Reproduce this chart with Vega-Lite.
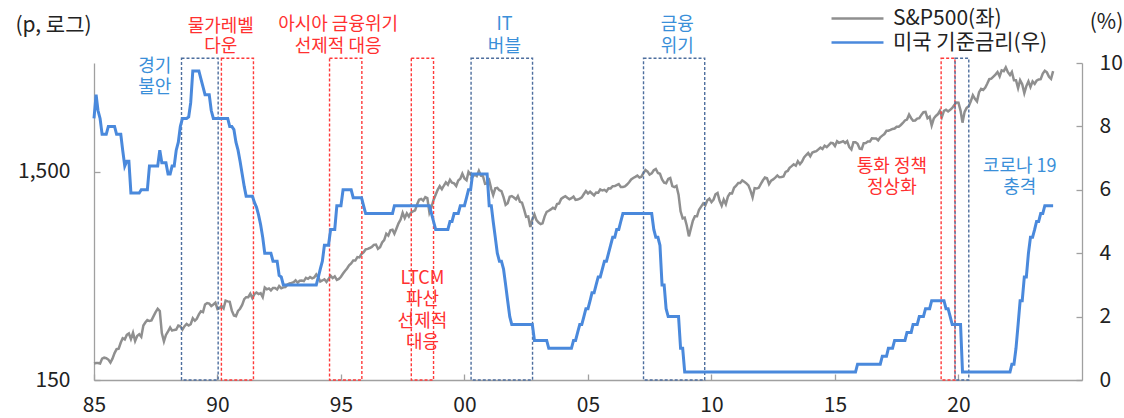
{
"$schema":"https://vega.github.io/schema/vega-lite/v6.json",
"width":988,"height":317,
"autosize":{"type":"none"},
"padding":{"left":94,"top":63,"right":42,"bottom":38},
"config":{"view":{"stroke":null},"font":"Noto Sans CJK KR",
"axis":{"domainColor":"#a0a0a0","domainWidth":1.3,"tickColor":"#a0a0a0","tickWidth":1.3,"tickSize":-6,"labelFont":"Noto Sans CJK KR","labelFontSize":21,"labelColor":"#222222","grid":false,"titleFont":"Noto Sans CJK KR","titleFontSize":21,"titleFontWeight":"normal","titleColor":"#222222"}},
"datasets":{
"sp":[
{"d":"1985-01","v":180},{"d":"1985-02","v":181},{"d":"1985-03","v":181},{"d":"1985-04","v":180},{"d":"1985-05","v":190},{"d":"1985-06","v":192},{"d":"1985-07","v":191},{"d":"1985-08","v":188},{"d":"1985-09","v":182},{"d":"1985-10","v":190},{"d":"1985-11","v":202},{"d":"1985-12","v":211},
{"d":"1986-01","v":212},{"d":"1986-02","v":227},{"d":"1986-03","v":238},{"d":"1986-04","v":235},{"d":"1986-05","v":247},{"d":"1986-06","v":251},{"d":"1986-07","v":236},{"d":"1986-08","v":253},{"d":"1986-09","v":231},{"d":"1986-10","v":244},{"d":"1986-11","v":249},{"d":"1986-12","v":242},
{"d":"1987-01","v":274},{"d":"1987-02","v":284},{"d":"1987-03","v":291},{"d":"1987-04","v":288},{"d":"1987-05","v":290},{"d":"1987-06","v":304},{"d":"1987-07","v":318},{"d":"1987-08","v":330},{"d":"1987-09","v":322},{"d":"1987-10","v":252},{"d":"1987-11","v":230},{"d":"1987-12","v":247},
{"d":"1988-01","v":257},{"d":"1988-02","v":268},{"d":"1988-03","v":259},{"d":"1988-04","v":261},{"d":"1988-05","v":262},{"d":"1988-06","v":274},{"d":"1988-07","v":272},{"d":"1988-08","v":262},{"d":"1988-09","v":272},{"d":"1988-10","v":279},{"d":"1988-11","v":274},{"d":"1988-12","v":278},
{"d":"1989-01","v":297},{"d":"1989-02","v":289},{"d":"1989-03","v":295},{"d":"1989-04","v":310},{"d":"1989-05","v":321},{"d":"1989-06","v":318},{"d":"1989-07","v":346},{"d":"1989-08","v":351},{"d":"1989-09","v":349},{"d":"1989-10","v":340},{"d":"1989-11","v":346},{"d":"1989-12","v":353},
{"d":"1990-01","v":329},{"d":"1990-02","v":332},{"d":"1990-03","v":340},{"d":"1990-04","v":331},{"d":"1990-05","v":361},{"d":"1990-06","v":358},{"d":"1990-07","v":356},{"d":"1990-08","v":323},{"d":"1990-09","v":306},{"d":"1990-10","v":304},{"d":"1990-11","v":322},{"d":"1990-12","v":330},
{"d":"1991-01","v":344},{"d":"1991-02","v":367},{"d":"1991-03","v":375},{"d":"1991-04","v":375},{"d":"1991-05","v":390},{"d":"1991-06","v":371},{"d":"1991-07","v":388},{"d":"1991-08","v":395},{"d":"1991-09","v":388},{"d":"1991-10","v":392},{"d":"1991-11","v":375},{"d":"1991-12","v":417},
{"d":"1992-01","v":409},{"d":"1992-02","v":413},{"d":"1992-03","v":404},{"d":"1992-04","v":415},{"d":"1992-05","v":415},{"d":"1992-06","v":408},{"d":"1992-07","v":424},{"d":"1992-08","v":414},{"d":"1992-09","v":418},{"d":"1992-10","v":419},{"d":"1992-11","v":431},{"d":"1992-12","v":436},
{"d":"1993-01","v":439},{"d":"1993-02","v":443},{"d":"1993-03","v":452},{"d":"1993-04","v":440},{"d":"1993-05","v":450},{"d":"1993-06","v":451},{"d":"1993-07","v":448},{"d":"1993-08","v":464},{"d":"1993-09","v":459},{"d":"1993-10","v":468},{"d":"1993-11","v":462},{"d":"1993-12","v":466},
{"d":"1994-01","v":482},{"d":"1994-02","v":467},{"d":"1994-03","v":446},{"d":"1994-04","v":451},{"d":"1994-05","v":457},{"d":"1994-06","v":444},{"d":"1994-07","v":458},{"d":"1994-08","v":475},{"d":"1994-09","v":463},{"d":"1994-10","v":472},{"d":"1994-11","v":454},{"d":"1994-12","v":459},
{"d":"1995-01","v":470},{"d":"1995-02","v":487},{"d":"1995-03","v":501},{"d":"1995-04","v":515},{"d":"1995-05","v":533},{"d":"1995-06","v":545},{"d":"1995-07","v":562},{"d":"1995-08","v":562},{"d":"1995-09","v":584},{"d":"1995-10","v":582},{"d":"1995-11","v":605},{"d":"1995-12","v":616},
{"d":"1996-01","v":636},{"d":"1996-02","v":640},{"d":"1996-03","v":646},{"d":"1996-04","v":654},{"d":"1996-05","v":669},{"d":"1996-06","v":671},{"d":"1996-07","v":640},{"d":"1996-08","v":652},{"d":"1996-09","v":687},{"d":"1996-10","v":705},{"d":"1996-11","v":757},{"d":"1996-12","v":741},
{"d":"1997-01","v":786},{"d":"1997-02","v":791},{"d":"1997-03","v":757},{"d":"1997-04","v":801},{"d":"1997-05","v":848},{"d":"1997-06","v":885},{"d":"1997-07","v":954},{"d":"1997-08","v":899},{"d":"1997-09","v":947},{"d":"1997-10","v":915},{"d":"1997-11","v":955},{"d":"1997-12","v":970},
{"d":"1998-01","v":980},{"d":"1998-02","v":1049},{"d":"1998-03","v":1102},{"d":"1998-04","v":1112},{"d":"1998-05","v":1091},{"d":"1998-06","v":1134},{"d":"1998-07","v":1121},{"d":"1998-08","v":957},{"d":"1998-09","v":1017},{"d":"1998-10","v":1099},{"d":"1998-11","v":1164},{"d":"1998-12","v":1229},
{"d":"1999-01","v":1280},{"d":"1999-02","v":1238},{"d":"1999-03","v":1286},{"d":"1999-04","v":1335},{"d":"1999-05","v":1302},{"d":"1999-06","v":1373},{"d":"1999-07","v":1329},{"d":"1999-08","v":1320},{"d":"1999-09","v":1283},{"d":"1999-10","v":1363},{"d":"1999-11","v":1389},{"d":"1999-12","v":1469},
{"d":"2000-01","v":1394},{"d":"2000-02","v":1366},{"d":"2000-03","v":1499},{"d":"2000-04","v":1452},{"d":"2000-05","v":1421},{"d":"2000-06","v":1455},{"d":"2000-07","v":1431},{"d":"2000-08","v":1518},{"d":"2000-09","v":1437},{"d":"2000-10","v":1429},{"d":"2000-11","v":1315},{"d":"2000-12","v":1320},
{"d":"2001-01","v":1366},{"d":"2001-02","v":1240},{"d":"2001-03","v":1160},{"d":"2001-04","v":1249},{"d":"2001-05","v":1256},{"d":"2001-06","v":1224},{"d":"2001-07","v":1211},{"d":"2001-08","v":1134},{"d":"2001-09","v":1041},{"d":"2001-10","v":1060},{"d":"2001-11","v":1139},{"d":"2001-12","v":1148},
{"d":"2002-01","v":1130},{"d":"2002-02","v":1107},{"d":"2002-03","v":1147},{"d":"2002-04","v":1077},{"d":"2002-05","v":1067},{"d":"2002-06","v":990},{"d":"2002-07","v":912},{"d":"2002-08","v":916},{"d":"2002-09","v":815},{"d":"2002-10","v":886},{"d":"2002-11","v":936},{"d":"2002-12","v":880},
{"d":"2003-01","v":856},{"d":"2003-02","v":841},{"d":"2003-03","v":848},{"d":"2003-04","v":917},{"d":"2003-05","v":964},{"d":"2003-06","v":975},{"d":"2003-07","v":990},{"d":"2003-08","v":1008},{"d":"2003-09","v":996},{"d":"2003-10","v":1051},{"d":"2003-11","v":1058},{"d":"2003-12","v":1112},
{"d":"2004-01","v":1131},{"d":"2004-02","v":1145},{"d":"2004-03","v":1126},{"d":"2004-04","v":1107},{"d":"2004-05","v":1121},{"d":"2004-06","v":1141},{"d":"2004-07","v":1101},{"d":"2004-08","v":1104},{"d":"2004-09","v":1115},{"d":"2004-10","v":1130},{"d":"2004-11","v":1174},{"d":"2004-12","v":1212},
{"d":"2005-01","v":1181},{"d":"2005-02","v":1204},{"d":"2005-03","v":1181},{"d":"2005-04","v":1157},{"d":"2005-05","v":1192},{"d":"2005-06","v":1191},{"d":"2005-07","v":1234},{"d":"2005-08","v":1220},{"d":"2005-09","v":1229},{"d":"2005-10","v":1207},{"d":"2005-11","v":1249},{"d":"2005-12","v":1248},
{"d":"2006-01","v":1280},{"d":"2006-02","v":1281},{"d":"2006-03","v":1295},{"d":"2006-04","v":1311},{"d":"2006-05","v":1270},{"d":"2006-06","v":1270},{"d":"2006-07","v":1277},{"d":"2006-08","v":1304},{"d":"2006-09","v":1336},{"d":"2006-10","v":1378},{"d":"2006-11","v":1401},{"d":"2006-12","v":1418},
{"d":"2007-01","v":1438},{"d":"2007-02","v":1407},{"d":"2007-03","v":1421},{"d":"2007-04","v":1482},{"d":"2007-05","v":1531},{"d":"2007-06","v":1503},{"d":"2007-07","v":1455},{"d":"2007-08","v":1474},{"d":"2007-09","v":1527},{"d":"2007-10","v":1549},{"d":"2007-11","v":1481},{"d":"2007-12","v":1468},
{"d":"2008-01","v":1379},{"d":"2008-02","v":1331},{"d":"2008-03","v":1323},{"d":"2008-04","v":1386},{"d":"2008-05","v":1400},{"d":"2008-06","v":1280},{"d":"2008-07","v":1267},{"d":"2008-08","v":1283},{"d":"2008-09","v":1165},{"d":"2008-10","v":969},{"d":"2008-11","v":896},{"d":"2008-12","v":903},
{"d":"2009-01","v":826},{"d":"2009-02","v":735},{"d":"2009-03","v":798},{"d":"2009-04","v":873},{"d":"2009-05","v":919},{"d":"2009-06","v":919},{"d":"2009-07","v":987},{"d":"2009-08","v":1021},{"d":"2009-09","v":1057},{"d":"2009-10","v":1036},{"d":"2009-11","v":1096},{"d":"2009-12","v":1115},
{"d":"2010-01","v":1074},{"d":"2010-02","v":1104},{"d":"2010-03","v":1169},{"d":"2010-04","v":1187},{"d":"2010-05","v":1089},{"d":"2010-06","v":1031},{"d":"2010-07","v":1102},{"d":"2010-08","v":1049},{"d":"2010-09","v":1141},{"d":"2010-10","v":1183},{"d":"2010-11","v":1181},{"d":"2010-12","v":1258},
{"d":"2011-01","v":1286},{"d":"2011-02","v":1327},{"d":"2011-03","v":1326},{"d":"2011-04","v":1364},{"d":"2011-05","v":1345},{"d":"2011-06","v":1321},{"d":"2011-07","v":1292},{"d":"2011-08","v":1219},{"d":"2011-09","v":1131},{"d":"2011-10","v":1253},{"d":"2011-11","v":1247},{"d":"2011-12","v":1258},
{"d":"2012-01","v":1312},{"d":"2012-02","v":1366},{"d":"2012-03","v":1408},{"d":"2012-04","v":1398},{"d":"2012-05","v":1310},{"d":"2012-06","v":1362},{"d":"2012-07","v":1379},{"d":"2012-08","v":1407},{"d":"2012-09","v":1441},{"d":"2012-10","v":1412},{"d":"2012-11","v":1416},{"d":"2012-12","v":1426},
{"d":"2013-01","v":1498},{"d":"2013-02","v":1515},{"d":"2013-03","v":1569},{"d":"2013-04","v":1598},{"d":"2013-05","v":1631},{"d":"2013-06","v":1606},{"d":"2013-07","v":1686},{"d":"2013-08","v":1633},{"d":"2013-09","v":1682},{"d":"2013-10","v":1757},{"d":"2013-11","v":1806},{"d":"2013-12","v":1848},
{"d":"2014-01","v":1783},{"d":"2014-02","v":1859},{"d":"2014-03","v":1872},{"d":"2014-04","v":1884},{"d":"2014-05","v":1924},{"d":"2014-06","v":1960},{"d":"2014-07","v":1931},{"d":"2014-08","v":2003},{"d":"2014-09","v":1972},{"d":"2014-10","v":2018},{"d":"2014-11","v":2068},{"d":"2014-12","v":2059},
{"d":"2015-01","v":1995},{"d":"2015-02","v":2105},{"d":"2015-03","v":2068},{"d":"2015-04","v":2086},{"d":"2015-05","v":2107},{"d":"2015-06","v":2063},{"d":"2015-07","v":2104},{"d":"2015-08","v":1972},{"d":"2015-09","v":1920},{"d":"2015-10","v":2079},{"d":"2015-11","v":2080},{"d":"2015-12","v":2044},
{"d":"2016-01","v":1940},{"d":"2016-02","v":1932},{"d":"2016-03","v":2060},{"d":"2016-04","v":2065},{"d":"2016-05","v":2097},{"d":"2016-06","v":2099},{"d":"2016-07","v":2174},{"d":"2016-08","v":2171},{"d":"2016-09","v":2168},{"d":"2016-10","v":2126},{"d":"2016-11","v":2199},{"d":"2016-12","v":2239},
{"d":"2017-01","v":2279},{"d":"2017-02","v":2364},{"d":"2017-03","v":2363},{"d":"2017-04","v":2384},{"d":"2017-05","v":2412},{"d":"2017-06","v":2423},{"d":"2017-07","v":2470},{"d":"2017-08","v":2472},{"d":"2017-09","v":2519},{"d":"2017-10","v":2575},{"d":"2017-11","v":2648},{"d":"2017-12","v":2674},
{"d":"2018-01","v":2824},{"d":"2018-02","v":2714},{"d":"2018-03","v":2641},{"d":"2018-04","v":2648},{"d":"2018-05","v":2705},{"d":"2018-06","v":2718},{"d":"2018-07","v":2816},{"d":"2018-08","v":2902},{"d":"2018-09","v":2914},{"d":"2018-10","v":2712},{"d":"2018-11","v":2760},{"d":"2018-12","v":2507},
{"d":"2019-01","v":2704},{"d":"2019-02","v":2784},{"d":"2019-03","v":2834},{"d":"2019-04","v":2946},{"d":"2019-05","v":2752},{"d":"2019-06","v":2942},{"d":"2019-07","v":2980},{"d":"2019-08","v":2926},{"d":"2019-09","v":2977},{"d":"2019-10","v":3038},{"d":"2019-11","v":3141},{"d":"2019-12","v":3231},
{"d":"2020-01","v":3226},{"d":"2020-02","v":2954},{"d":"2020-03","v":2585},{"d":"2020-04","v":2912},{"d":"2020-05","v":3044},{"d":"2020-06","v":3100},{"d":"2020-07","v":3271},{"d":"2020-08","v":3500},{"d":"2020-09","v":3363},{"d":"2020-10","v":3270},{"d":"2020-11","v":3622},{"d":"2020-12","v":3756},
{"d":"2021-01","v":3714},{"d":"2021-02","v":3811},{"d":"2021-03","v":3973},{"d":"2021-04","v":4181},{"d":"2021-05","v":4204},{"d":"2021-06","v":4298},{"d":"2021-07","v":4395},{"d":"2021-08","v":4523},{"d":"2021-09","v":4308},{"d":"2021-10","v":4605},{"d":"2021-11","v":4567},{"d":"2021-12","v":4766},
{"d":"2022-01","v":4516},{"d":"2022-02","v":4374},{"d":"2022-03","v":4530},{"d":"2022-04","v":4132},{"d":"2022-05","v":4132},{"d":"2022-06","v":3785},{"d":"2022-07","v":4130},{"d":"2022-08","v":3955},{"d":"2022-09","v":3586},{"d":"2022-10","v":3872},{"d":"2022-11","v":4080},{"d":"2022-12","v":3840},
{"d":"2023-01","v":4077},{"d":"2023-02","v":3970},{"d":"2023-03","v":4109},{"d":"2023-04","v":4169},{"d":"2023-05","v":4180},{"d":"2023-06","v":4450},{"d":"2023-07","v":4589},{"d":"2023-08","v":4508},{"d":"2023-09","v":4288},{"d":"2023-10","v":4194},{"d":"2023-11","v":4568}
],
"ff":[
{"d":"1985-01","r":8.25},{"d":"1985-02","r":9.0},{"d":"1985-03","r":8.5},{"d":"1985-04","r":8.25},{"d":"1985-05","r":7.75},{"d":"1985-07","r":7.75},{"d":"1985-08","r":8.0},{"d":"1985-11","r":8.0},{"d":"1985-12","r":7.75},
{"d":"1986-02","r":7.75},{"d":"1986-03","r":7.25},{"d":"1986-04","r":6.75},{"d":"1986-05","r":6.9},{"d":"1986-06","r":6.9},{"d":"1986-07","r":5.9},{"d":"1986-11","r":5.9},{"d":"1986-12","r":6.0},
{"d":"1987-03","r":6.0},{"d":"1987-04","r":6.75},{"d":"1987-08","r":6.75},{"d":"1987-09","r":7.25},{"d":"1987-10","r":6.85},{"d":"1987-12","r":6.85},
{"d":"1988-01","r":6.5},{"d":"1988-02","r":6.5},{"d":"1988-03","r":6.75},{"d":"1988-04","r":6.75},{"d":"1988-05","r":7.25},{"d":"1988-06","r":7.5},{"d":"1988-07","r":8.0},{"d":"1988-08","r":8.25},{"d":"1988-10","r":8.25},{"d":"1988-11","r":8.3},{"d":"1988-12","r":8.75},
{"d":"1989-01","r":9.75},{"d":"1989-04","r":9.75},{"d":"1989-05","r":9.5},{"d":"1989-06","r":9.25},{"d":"1989-07","r":9.0},{"d":"1989-09","r":9.0},{"d":"1989-10","r":8.5},{"d":"1989-11","r":8.25},
{"d":"1990-06","r":8.25},{"d":"1990-07","r":8.0},{"d":"1990-08","r":8.0},{"d":"1990-09","r":7.9},{"d":"1990-10","r":7.5},{"d":"1990-11","r":7.25},{"d":"1990-12","r":6.9},
{"d":"1991-01","r":6.5},{"d":"1991-02","r":6.1},{"d":"1991-03","r":5.8},{"d":"1991-06","r":5.8},{"d":"1991-07","r":5.6},{"d":"1991-08","r":5.45},{"d":"1991-09","r":5.2},{"d":"1991-10","r":4.9},{"d":"1991-11","r":4.5},{"d":"1991-12","r":4.0},
{"d":"1992-03","r":4.0},{"d":"1992-04","r":3.75},{"d":"1992-06","r":3.75},{"d":"1992-07","r":3.3},{"d":"1992-08","r":3.25},{"d":"1992-09","r":3.0},
{"d":"1994-01","r":3.0},{"d":"1994-02","r":3.25},{"d":"1994-03","r":3.5},{"d":"1994-04","r":3.75},{"d":"1994-05","r":4.25},{"d":"1994-07","r":4.25},{"d":"1994-08","r":4.75},{"d":"1994-10","r":4.75},{"d":"1994-11","r":5.5},
{"d":"1995-01","r":5.5},{"d":"1995-02","r":6.0},{"d":"1995-06","r":6.0},{"d":"1995-07","r":5.75},{"d":"1995-11","r":5.75},{"d":"1995-12","r":5.5},
{"d":"1996-01","r":5.25},{"d":"1997-02","r":5.25},{"d":"1997-03","r":5.5},{"d":"1998-08","r":5.5},{"d":"1998-09","r":5.25},{"d":"1998-10","r":5.0},{"d":"1998-11","r":4.75},
{"d":"1999-05","r":4.75},{"d":"1999-06","r":5.0},{"d":"1999-07","r":5.0},{"d":"1999-08","r":5.25},{"d":"1999-10","r":5.25},{"d":"1999-11","r":5.5},
{"d":"2000-01","r":5.5},{"d":"2000-02","r":5.75},{"d":"2000-03","r":6.0},{"d":"2000-04","r":6.0},{"d":"2000-05","r":6.5},{"d":"2000-12","r":6.5},
{"d":"2001-01","r":5.5},{"d":"2001-02","r":5.5},{"d":"2001-03","r":5.0},{"d":"2001-04","r":4.5},{"d":"2001-05","r":4.0},{"d":"2001-06","r":3.75},{"d":"2001-07","r":3.75},{"d":"2001-08","r":3.5},{"d":"2001-09","r":3.0},{"d":"2001-10","r":2.5},{"d":"2001-11","r":2.0},{"d":"2001-12","r":1.75},
{"d":"2002-10","r":1.75},{"d":"2002-11","r":1.25},{"d":"2003-05","r":1.25},{"d":"2003-06","r":1.0},
{"d":"2004-05","r":1.0},{"d":"2004-06","r":1.25},{"d":"2004-07","r":1.25},{"d":"2004-08","r":1.5},{"d":"2004-09","r":1.75},{"d":"2004-10","r":1.75},{"d":"2004-11","r":2.0},{"d":"2004-12","r":2.25},
{"d":"2005-01","r":2.25},{"d":"2005-02","r":2.5},{"d":"2005-03","r":2.75},{"d":"2005-04","r":2.75},{"d":"2005-05","r":3.0},{"d":"2005-06","r":3.25},{"d":"2005-07","r":3.25},{"d":"2005-08","r":3.5},{"d":"2005-09","r":3.75},{"d":"2005-10","r":3.75},{"d":"2005-11","r":4.0},{"d":"2005-12","r":4.25},
{"d":"2006-01","r":4.5},{"d":"2006-02","r":4.5},{"d":"2006-03","r":4.75},{"d":"2006-04","r":4.75},{"d":"2006-05","r":5.0},{"d":"2006-06","r":5.25},
{"d":"2007-08","r":5.25},{"d":"2007-09","r":4.75},{"d":"2007-10","r":4.5},{"d":"2007-11","r":4.5},{"d":"2007-12","r":4.25},
{"d":"2008-01","r":3.0},{"d":"2008-02","r":3.0},{"d":"2008-03","r":2.25},{"d":"2008-04","r":2.0},{"d":"2008-09","r":2.0},{"d":"2008-10","r":1.0},{"d":"2008-11","r":1.0},{"d":"2008-12","r":0.25},
{"d":"2015-11","r":0.25},{"d":"2015-12","r":0.5},{"d":"2016-11","r":0.5},{"d":"2016-12","r":0.75},
{"d":"2017-02","r":0.75},{"d":"2017-03","r":1.0},{"d":"2017-05","r":1.0},{"d":"2017-06","r":1.25},{"d":"2017-11","r":1.25},{"d":"2017-12","r":1.5},
{"d":"2018-02","r":1.5},{"d":"2018-03","r":1.75},{"d":"2018-05","r":1.75},{"d":"2018-06","r":2.0},{"d":"2018-08","r":2.0},{"d":"2018-09","r":2.25},{"d":"2018-11","r":2.25},{"d":"2018-12","r":2.5},
{"d":"2019-06","r":2.5},{"d":"2019-07","r":2.25},{"d":"2019-08","r":2.25},{"d":"2019-09","r":2.0},{"d":"2019-10","r":1.75},
{"d":"2020-02","r":1.75},{"d":"2020-03","r":0.25},
{"d":"2022-02","r":0.25},{"d":"2022-03","r":0.5},{"d":"2022-04","r":0.5},{"d":"2022-05","r":1.0},{"d":"2022-06","r":1.75},{"d":"2022-07","r":2.5},{"d":"2022-08","r":2.5},{"d":"2022-09","r":3.25},{"d":"2022-10","r":3.25},{"d":"2022-11","r":4.0},{"d":"2022-12","r":4.5},
{"d":"2023-01","r":4.5},{"d":"2023-02","r":4.75},{"d":"2023-03","r":5.0},{"d":"2023-04","r":5.0},{"d":"2023-05","r":5.25},{"d":"2023-06","r":5.25},{"d":"2023-07","r":5.5},{"d":"2023-11","r":5.5}
],
"box":[
{"s":"1988-07-18","e":"1990-01-11","k":"event"},
{"s":"1990-02-28","e":"1991-06-17","k":"policy"},
{"s":"1994-07-16","e":"1995-11-06","k":"policy"},
{"s":"1997-11-06","e":"1998-10-01","k":"policy"},
{"s":"2000-04-08","e":"2002-10-04","k":"event"},
{"s":"2007-04-02","e":"2009-09-23","k":"event"},
{"s":"2019-04-20","e":"2019-11-10","k":"policy"},
{"s":"2019-11-12","e":"2020-06-02","k":"event"}
],
"lbl":[
{"t":"경기","d":"1987-06-20","y":9.87,"k":"event"},
{"t":"불안","d":"1987-06-20","y":9.21,"k":"event"},
{"t":"물가레벨","d":"1990-02-19","y":11.15,"k":"policy"},
{"t":"다운","d":"1990-02-19","y":10.5,"k":"policy"},
{"t":"아시아 금융위기","d":"1994-11-20","y":11.2,"k":"policy"},
{"t":"선제적 대응","d":"1994-11-20","y":10.5,"k":"policy"},
{"t":"IT","d":"2001-08-14","y":11.2,"k":"event"},
{"t":"버블","d":"2001-08-14","y":10.5,"k":"event"},
{"t":"금융","d":"2008-08-14","y":11.2,"k":"event"},
{"t":"위기","d":"2008-08-14","y":10.5,"k":"event"},
{"t":"LTCM","d":"1998-04-20","y":3.19,"k":"policy"},
{"t":"파산","d":"1998-04-20","y":2.52,"k":"policy"},
{"t":"선제적","d":"1998-04-20","y":1.83,"k":"policy"},
{"t":"대응","d":"1998-04-20","y":1.17,"k":"policy"},
{"t":"통화 정책","d":"2017-04-22","y":6.73,"k":"policy"},
{"t":"정상화","d":"2017-04-22","y":6.06,"k":"policy"},
{"t":"코로나 19","d":"2022-06-25","y":6.72,"k":"event"},
{"t":"충격","d":"2022-06-25","y":6.06,"k":"event"}
]
},
"layer":[
{"data":{"name":"sp"},
 "mark":{"type":"line","strokeWidth":2.5},
 "encoding":{
  "x":{"field":"d","type":"temporal","scale":{"type":"utc","domain":[{"year":1985,"utc":true},{"year":2025,"utc":true}]},
   "axis":{"title":null,"format":"%y","labelPadding":20,"labelFlush":false,
    "values":[{"year":1985,"utc":true},{"year":1990,"utc":true},{"year":1995,"utc":true},{"year":2000,"utc":true},{"year":2005,"utc":true},{"year":2010,"utc":true},{"year":2015,"utc":true},{"year":2020,"utc":true}]}},
  "y":{"field":"v","type":"quantitative","scale":{"type":"log","domain":[150,5000],"nice":false},
   "axis":{"values":[150,1500],"format":",","labelPadding":30,"title":"(p, 로그)","titleAngle":0,"titleX":-41,"titleY":-38,"titleAlign":"center","titleBaseline":"middle"}},
  "color":{"datum":"S&P500(좌)","type":"nominal",
   "scale":{"domain":["S&P500(좌)","미국 기준금리(우)"],"range":["#8f8f8f","#4a89dc"]},
   "legend":{"orient":"none","legendX":753,"legendY":-55,"title":null,"symbolType":"M-5,0H5","symbolSize":108,"symbolStrokeWidth":2.5,"labelFontSize":21,"labelOffset":25,"rowPadding":2,"labelColor":"#222222","labelFont":"Noto Sans CJK KR"}}
 }},
{"layer":[
 {"data":{"name":"box"},
  "mark":{"type":"rect","fillOpacity":0,"strokeWidth":1.4,"strokeDash":[3,2]},
  "encoding":{
   "x":{"field":"s","type":"temporal","scale":{"type":"utc"}},
   "x2":{"field":"e"},
   "y":{"datum":10.15,"type":"quantitative","scale":{"domain":[0,10],"nice":false}},
   "y2":{"datum":0},
   "stroke":{"field":"k","type":"nominal","scale":{"domain":["event","policy"],"range":["#4d6e9e","#ff3a3a"]},"legend":null}
  }},
 {"data":{"name":"ff"},
  "mark":{"type":"line","strokeWidth":3},
  "encoding":{
   "x":{"field":"d","type":"temporal","scale":{"type":"utc"}},
   "y":{"field":"r","type":"quantitative","scale":{"domain":[0,10],"nice":false},
    "axis":{"orient":"right","values":[0,2,4,6,8,10],"labelPadding":23,"title":"(%)","titleAngle":0,"titleX":24,"titleY":-41,"titleAlign":"center","titleBaseline":"middle"}},
   "color":{"datum":"미국 기준금리(우)","type":"nominal"}
  }},
 {"data":{"name":"lbl"},
  "mark":{"type":"text","fontSize":18,"baseline":"middle","align":"center"},
  "encoding":{
   "x":{"field":"d","type":"temporal","scale":{"type":"utc"}},
   "y":{"field":"y","type":"quantitative","scale":{"domain":[0,10],"nice":false}},
   "text":{"field":"t"},
   "fill":{"field":"k","type":"nominal","scale":{"domain":["event","policy"],"range":["#3a8fd9","#ff3030"]},"legend":null}
  }}
 ]}
],
"resolve":{"scale":{"y":"independent"},"axis":{"y":"independent"}}
}
